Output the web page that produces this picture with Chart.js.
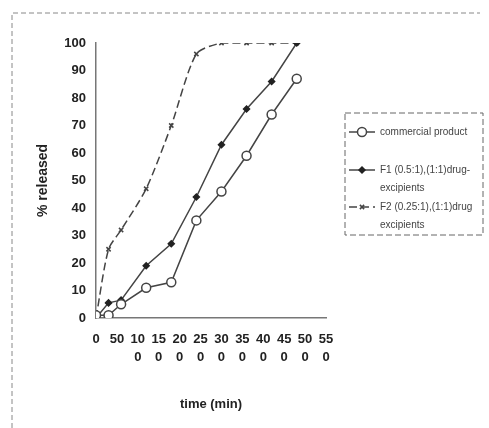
<!DOCTYPE html>
<html>
<head>
<meta charset="utf-8">
<script src="https://cdn.jsdelivr.net/npm/chart.js@4.4.0/dist/chart.umd.min.js"></script>
<style>
  body { margin: 0; background: #fff; }
  #wrap { width: 489px; height: 428px; position: relative; }
</style>
</head>
<body>
<div id="wrap"><canvas id="myChart" width="489" height="428"></canvas></div>
<script>
// sampling times (x) and % released per formulation
const times = [0, 30, 60, 120, 180, 240, 300, 360, 420, 480];
const commercial = [1, 1, 5, 11, 13, 35.5, 46, 59, 74, 87];
const f1 = [0, 5.5, 6.5, 19, 27, 44, 63, 76, 86, 100];
const f2 = [0, 25, 32, 47, 70, 96, 100, 100, 100, 100];

const seriesNames = ['commercial product', 'F1 (0.5:1),(1:1)drug-excipients', 'F2 (0.25:1),(1:1)drug-excipients'];
const legendLines = [
  ['commercial product'],
  ['F1 (0.5:1),(1:1)drug-', 'excipients'],
  ['F2 (0.25:1),(1:1)drug', 'excipients']
];
const xTicks = [0, 50, 100, 150, 200, 250, 300, 350, 400, 450, 500, 550];
const yTicks = [0, 10, 20, 30, 40, 50, 60, 70, 80, 90, 100];

const ink = '#444';

function pts(ys) {
  return times.map((t, i) => ({ x: t, y: ys[i] }));
}

// draws the faint page frame and the boxed legend on the right
const extras = {
  id: 'extras',
  beforeDraw(chart) {
    const ctx = chart.ctx;
    ctx.save();
    ctx.fillStyle = '#fff';
    ctx.fillRect(0, 0, chart.width, chart.height);
    ctx.strokeStyle = '#888';
    ctx.lineWidth = 1;
    ctx.setLineDash([5, 3]);
    ctx.beginPath();
    ctx.moveTo(12, 428);
    ctx.lineTo(12, 13);
    ctx.lineTo(480, 13);
    ctx.stroke();
    ctx.restore();
  },
  afterDraw(chart) {
    const ctx = chart.ctx;
    ctx.save();
    ctx.strokeStyle = '#666';
    ctx.lineWidth = 1;
    ctx.setLineDash([6, 3]);
    ctx.strokeRect(345, 113, 138, 122);
    const rows = [132, 170, 207];
    chart.data.datasets.forEach((ds, i) => {
      const y = rows[i];
      ctx.strokeStyle = ds.borderColor;
      ctx.lineWidth = 1.5;
      ctx.setLineDash(ds.borderDash || []);
      ctx.beginPath();
      ctx.moveTo(349, y);
      ctx.lineTo(375, y);
      ctx.stroke();
      ctx.setLineDash([]);
      ctx.fillStyle = ds.pointBackgroundColor;
      ctx.strokeStyle = ds.pointBorderColor;
      ctx.lineWidth = 1.5;
      Chart.helpers.drawPoint(ctx, { pointStyle: ds.pointStyle, radius: ds.pointRadius, rotation: 0, borderWidth: 1.5 }, 362, y);
      ctx.fillStyle = '#444';
      ctx.font = '10px "Liberation Sans", Arial, sans-serif';
      ctx.textBaseline = 'middle';
      legendLines[i].forEach((t, k) => ctx.fillText(t, 380, y + k * 18));
    });
    ctx.restore();
  }
};

const config = {
  type: 'scatter',
  data: {
    datasets: [{
      label: seriesNames[0],
      data: pts(commercial),
      showLine: true,
      borderColor: ink,
      borderWidth: 1.5,
      pointStyle: 'circle',
      pointRadius: 4.5,
      pointBackgroundColor: '#fff',
      pointBorderColor: ink,
      pointBorderWidth: 1.5
    }, {
      label: seriesNames[1],
      data: pts(f1),
      showLine: true,
      borderColor: ink,
      borderWidth: 1.5,
      pointStyle: 'rectRot',
      pointRadius: 3,
      pointBackgroundColor: '#222',
      pointBorderColor: '#222'
    }, {
      label: seriesNames[2],
      data: pts(f2),
      showLine: true,
      borderColor: ink,
      borderWidth: 1.5,
      borderDash: [8, 4],
      tension: 0.25,
      pointStyle: 'crossRot',
      pointRadius: 3,
      pointBackgroundColor: ink,
      pointBorderColor: ink
    }]
  },
  options: {
    responsive: false,
    animation: false,
    layout: { padding: { left: 31, right: 163, top: 43, bottom: 0 } },
    plugins: { legend: { display: false }, tooltip: { enabled: false } },
    scales: {
      x: {
        type: 'linear',
        min: 0,
        max: 550,
        afterFit(scale) { scale.height = 110; },
        afterBuildTicks(scale) { scale.ticks = xTicks.map(v => ({ value: v })); },
        grid: { display: false, drawTicks: false },
        border: { color: '#777', width: 1.5 },
        ticks: {
          padding: 12,
          maxRotation: 0,
          autoSkip: false,
          color: '#222',
          font: { family: '"Liberation Sans", Arial, sans-serif', size: 13, weight: 'bold', lineHeight: 1.4 },
          callback(v) {
            const s = String(v);
            return s.length > 2 ? [s.slice(0, 2), s.slice(2)] : s;
          }
        },
        title: {
          display: true,
          text: 'time (min)',
          color: '#222',
          padding: { top: 4, bottom: 16 },
          font: { family: '"Liberation Sans", Arial, sans-serif', size: 13, weight: 'bold' }
        }
      },
      y: {
        min: 0,
        max: 100,
        afterFit(scale) { scale.width = 65; },
        afterBuildTicks(scale) { scale.ticks = yTicks.map(v => ({ value: v })); },
        grid: { display: false, drawTicks: false },
        border: { color: '#777', width: 1.5, dash: [6, 2] },
        ticks: {
          padding: 10,
          color: '#222',
          font: { family: '"Liberation Sans", Arial, sans-serif', size: 13, weight: 'bold' }
        },
        title: {
          display: true,
          text: '% released',
          color: '#222',
          padding: { top: 4, bottom: 4 },
          font: { family: '"Liberation Sans", Arial, sans-serif', size: 14, weight: 'bold' }
        }
      }
    }
  },
  plugins: [extras]
};

const myChart = new Chart(document.getElementById('myChart'), config);
</script>
</body>
</html>
